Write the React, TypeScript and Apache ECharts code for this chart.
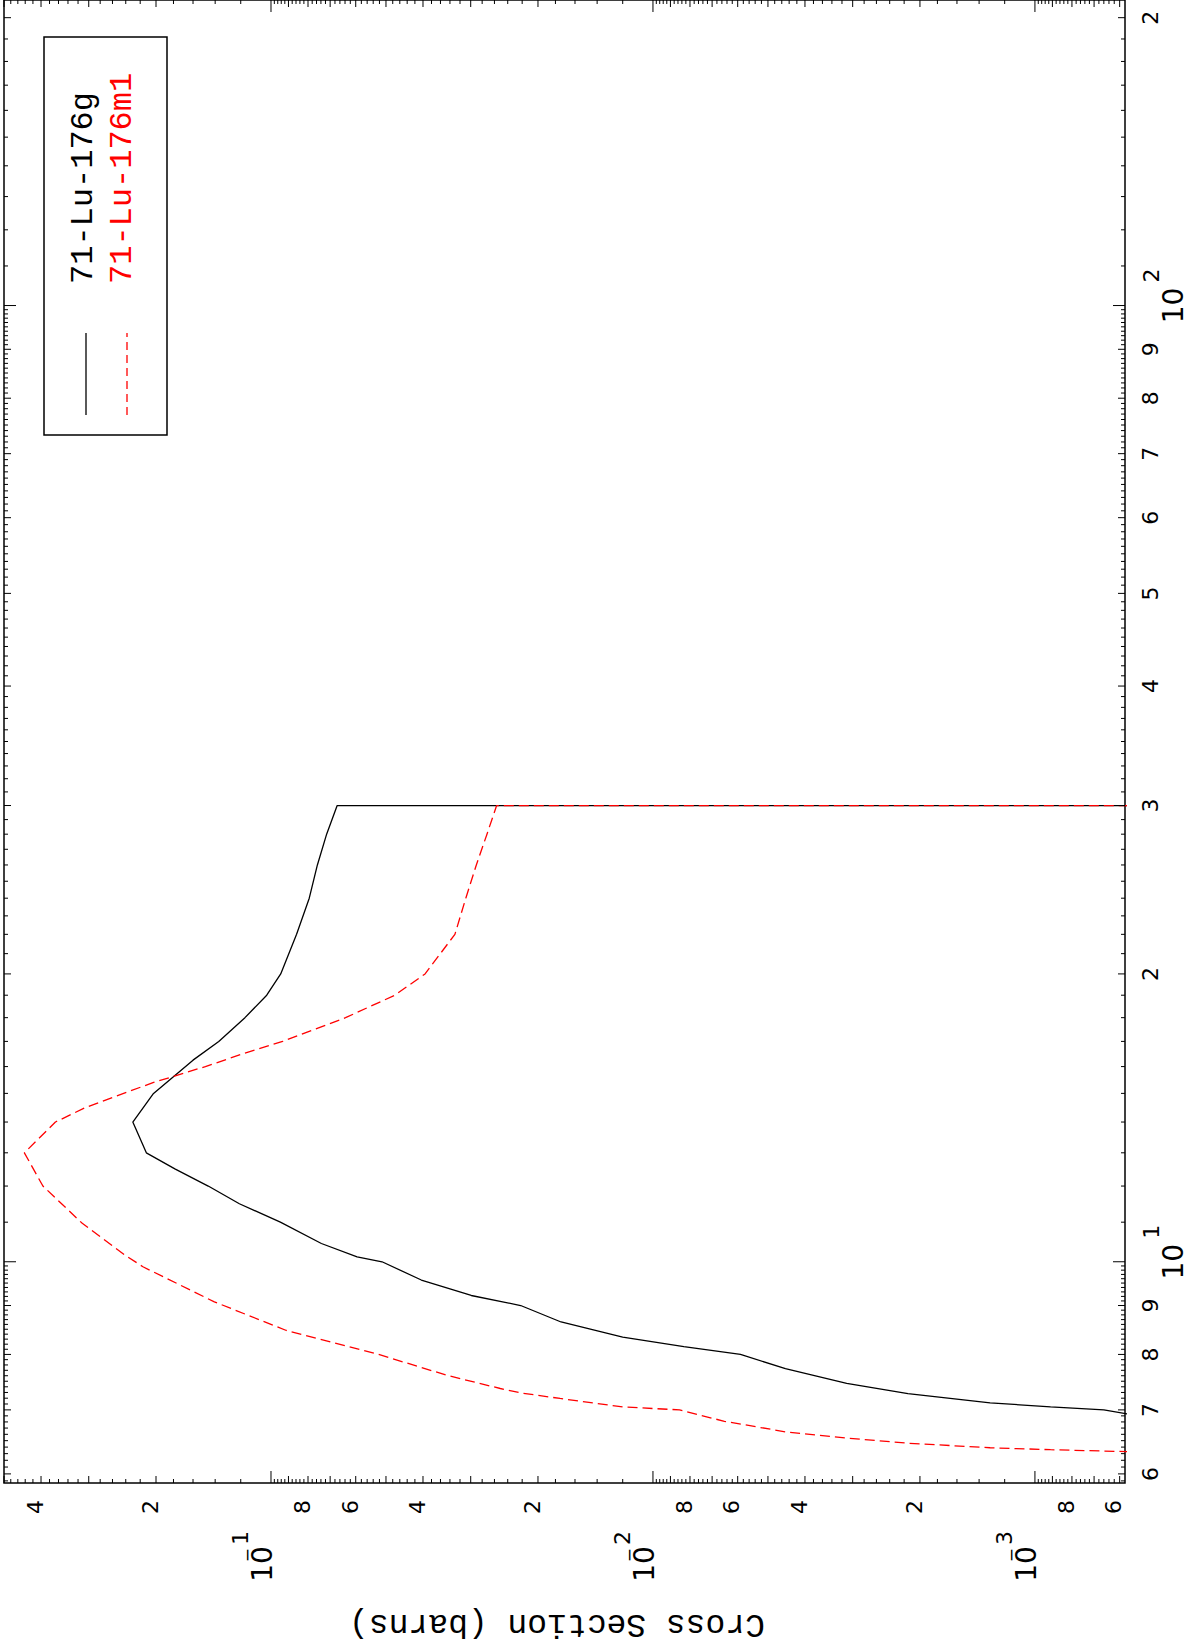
import React, { useEffect, useRef } from "react";
import * as echarts from "echarts";

// 71-Lu-176 : energy (MeV) vs cross section (barns)
const lu176gEnergy = [6.8, 7.0, 7.05, 7.12, 7.28, 7.46, 7.73, 8.0, 8.15, 8.34, 8.65, 9.0, 9.22, 9.57, 10.0, 10.12, 10.45, 11.0, 11.5, 12.0, 12.5, 13.0, 14.0, 15.0, 16.25, 17.0, 18.0, 19.0, 20.0, 22.0, 24.0, 26.0, 28.0, 30.0, 30.0];
const lu176gXs = [4.3e-4, 6.6e-4, 9.1e-4, 1.31e-3, 2.15e-3, 3.11e-3, 4.5e-3, 5.9e-3, 8.3e-3, 1.2e-2, 1.74e-2, 2.22e-2, 2.99e-2, 4.04e-2, 5.12e-2, 5.95e-2, 7.38e-2, 9.45e-2, 0.121, 0.146, 0.178, 0.212, 0.23, 0.203, 0.16, 0.137, 0.117, 0.1026, 0.0943, 0.0857, 0.0794, 0.0756, 0.0715, 0.0671, 1e-6];

const lu176m1Energy = [6.3, 6.36, 6.39, 6.46, 6.54, 6.64, 6.81, 7.0, 7.05, 7.195, 7.29, 7.37, 7.61, 8.0, 8.48, 9.08, 9.88, 10.16, 10.97, 12.0, 13.0, 14.0, 14.5, 14.88, 15.4, 16.0, 16.5, 17.0, 18.0, 19.0, 20.0, 22.0, 24.0, 26.0, 28.0, 30.0, 30.0];
const lu176m1Xs = [3.6e-4, 9.1e-4, 1.31e-3, 2.15e-3, 3.11e-3, 4.5e-3, 6.5e-3, 8.52e-3, 1.2e-2, 1.75e-2, 2.21e-2, 2.51e-2, 3.47e-2, 5.23e-2, 9.15e-2, 0.1407, 0.2164, 0.241, 0.312, 0.3955, 0.4422, 0.3667, 0.3055, 0.2571, 0.2029, 0.1485, 0.1185, 0.0932, 0.0638, 0.0474, 0.0395, 0.033, 0.0309, 0.029, 0.0272, 0.02566, 1e-6];

const seriesNames = ["71-Lu-176g", "71-Lu-176m1"];
const axisTitle = "Cross Section (barns)";

const energyLabelValues = [6, 7, 8, 9, 10, 20, 30, 40, 50, 60, 70, 80, 90, 100, 200];
const energyLabelTexts = ["6", "7", "8", "9", "10^1", "2", "3", "4", "5", "6", "7", "8", "9", "10^2", "2"];
const xsLabelValues = [6e-4, 8e-4, 1e-3, 2e-3, 4e-3, 6e-3, 8e-3, 1e-2, 2e-2, 4e-2, 6e-2, 8e-2, 1e-1, 2e-1, 4e-1];
const xsLabelTexts = ["6", "8", "10^-3", "2", "4", "6", "8", "10^-2", "2", "4", "6", "8", "10^-1", "2", "4"];

const XS_MIN = 5.81e-4;
const XS_MAX = 0.5;
const E_MIN = 5.87;
const E_MAX = 208.7;

const TICK_LEN = [12, 7, 4];
const DIGIT_FONT = "DejaVu Sans";
const MONO_FONT = "Liberation Mono";

function buildTicks(minV: number, maxV: number, stepTenths: number) {
  const out: number[][] = [];
  const d0 = Math.floor(Math.log10(minV));
  const d1 = Math.ceil(Math.log10(maxV));
  for (let d = d0; d <= d1; d++) {
    for (let m = 10; m < 100; m += stepTenths) {
      const v = (m / 10) * Math.pow(10, d);
      if (v < minV * 0.99999 || v > maxV * 1.00001) continue;
      const kind = m === 10 ? 0 : m % 10 === 0 ? 1 : 2;
      out.push([v, kind]);
    }
  }
  return out;
}

const xsTicks = buildTicks(XS_MIN, XS_MAX, 2);
const energyTicks = buildTicks(E_MIN, E_MAX, 1);

function txt(text: string, x: number, y: number, size: number, family: string, fill = "#000", rotation = Math.PI / 2, align = "center") {
  return {
    type: "text",
    x,
    y,
    rotation,
    style: {
      text,
      fill,
      fontSize: size,
      fontFamily: family,
      align,
      verticalAlign: "middle",
      textAlign: align,
      textVerticalAlign: "middle",
    },
  };
}

export default function App() {
  const ref = useRef<HTMLDivElement>(null);

  useEffect(() => {
    if (!ref.current) return;
    const chart = echarts.init(ref.current, undefined, { renderer: "svg" });

    const hiddenAxis = {
      axisLine: { show: false },
      axisTick: { show: false },
      axisLabel: { show: false },
      splitLine: { show: false },
    };

    const option: any = {
      animation: false,
      backgroundColor: "#fff",
      grid: {
        left: 4,
        top: 0,
        width: 1121,
        height: 1483,
        show: true,
        borderColor: "#000",
        borderWidth: 1.5,
        backgroundColor: "transparent",
      },
      xAxis: {
        type: "log",
        logBase: 10,
        min: XS_MIN,
        max: XS_MAX,
        inverse: true,
        ...hiddenAxis,
      },
      yAxis: {
        type: "log",
        logBase: 10,
        min: E_MIN,
        max: E_MAX,
        position: "right",
        ...hiddenAxis,
      },
      series: [
        {
          name: seriesNames[0],
          type: "line",
          data: lu176gEnergy.map((e, i) => [lu176gXs[i], e]),
          showSymbol: false,
          symbol: "none",
          clip: true,
          lineStyle: { color: "#000", width: 1.3 },
          z: 3,
        },
        {
          name: seriesNames[1],
          type: "line",
          data: lu176m1Energy.map((e, i) => [lu176m1Xs[i], e]),
          showSymbol: false,
          symbol: "none",
          clip: true,
          lineStyle: { color: "#ff0000", width: 1.3, type: [10, 5] },
          z: 3,
        },
        {
          type: "custom",
          silent: true,
          z: 5,
          data: xsTicks.map((t) => [t[0], E_MIN, t[1]]),
          renderItem: (params: any, api: any) => {
            const cs = params.coordSys;
            const p = api.coord([api.value(0), E_MIN]);
            const len = TICK_LEN[api.value(2)];
            const x = p[0];
            const yb = cs.y + cs.height;
            return {
              type: "group",
              children: [
                { type: "line", shape: { x1: x, y1: yb, x2: x, y2: yb - len }, style: { stroke: "#000", lineWidth: 1 } },
                { type: "line", shape: { x1: x, y1: cs.y, x2: x, y2: cs.y + len }, style: { stroke: "#000", lineWidth: 1 } },
              ],
            };
          },
        },
        {
          type: "custom",
          silent: true,
          z: 5,
          data: energyTicks.map((t) => [XS_MIN, t[0], t[1]]),
          renderItem: (params: any, api: any) => {
            const cs = params.coordSys;
            const p = api.coord([XS_MIN, api.value(1)]);
            const len = TICK_LEN[api.value(2)];
            const y = p[1];
            const xr = cs.x + cs.width;
            return {
              type: "group",
              children: [
                { type: "line", shape: { x1: xr, y1: y, x2: xr - len, y2: y }, style: { stroke: "#000", lineWidth: 1 } },
                { type: "line", shape: { x1: cs.x, y1: y, x2: cs.x + len, y2: y }, style: { stroke: "#000", lineWidth: 1 } },
              ],
            };
          },
        },
        {
          type: "custom",
          silent: true,
          z: 6,
          data: xsLabelValues.map((v) => [v, E_MIN]),
          renderItem: (params: any, api: any) => {
            const cs = params.coordSys;
            const p = api.coord([api.value(0), E_MIN]);
            const tx = p[0];
            const yb = cs.y + cs.height;
            const label = xsLabelTexts[params.dataIndex];
            if (label.indexOf("^") < 0) {
              return { type: "group", children: [txt(label, tx - 5.7, yb + 24, 22, DIGIT_FONT)] };
            }
            const [base, exp] = label.split("^");
            const neg = exp.startsWith("-");
            const digits = neg ? exp.slice(1) : exp;
            const children: any[] = [
              txt(base, tx - 8.8, yb + 81, 28, DIGIT_FONT),
              txt(digits, tx - 30.7, yb + 55, 22, DIGIT_FONT),
            ];
            if (neg) children.push(txt("\u2212", tx - 24, yb + 72, 17, DIGIT_FONT));
            return { type: "group", children };
          },
        },
        {
          type: "custom",
          silent: true,
          z: 6,
          data: energyLabelValues.map((v) => [XS_MIN, v]),
          renderItem: (params: any, api: any) => {
            const cs = params.coordSys;
            const p = api.coord([XS_MIN, api.value(1)]);
            const ty = p[1];
            const xr = cs.x + cs.width;
            const label = energyLabelTexts[params.dataIndex];
            if (label.indexOf("^") < 0) {
              return { type: "group", children: [txt(label, xr + 25, ty, 22, DIGIT_FONT)] };
            }
            const [base, exp] = label.split("^");
            return {
              type: "group",
              children: [
                txt(base, xr + 48.7, ty, 28, DIGIT_FONT),
                txt(exp, xr + 26, ty - 30, 22, DIGIT_FONT),
              ],
            };
          },
        },
      ],
      graphic: [
        {
          type: "rect",
          z: 20,
          shape: { x: 44, y: 37, width: 123, height: 398 },
          style: { fill: "#fff", stroke: "#000", lineWidth: 1.5 },
        },
        {
          type: "line",
          z: 21,
          shape: { x1: 86, y1: 415, x2: 86, y2: 333 },
          style: { stroke: "#000", lineWidth: 1.3 },
        },
        {
          type: "line",
          z: 21,
          shape: { x1: 127, y1: 415, x2: 127, y2: 333 },
          style: { stroke: "#ff0000", lineWidth: 1.3, lineDash: [8, 5] },
        },
        { ...txt(seriesNames[0], 83, 284, 32, MONO_FONT, "#000", Math.PI / 2, "left"), z: 21 },
        { ...txt(seriesNames[1], 122, 284, 32, MONO_FONT, "#ff0000", Math.PI / 2, "left"), z: 21 },
        { ...txt(axisTitle, 557, 1623, 33, MONO_FONT, "#000", Math.PI, "center"), z: 21 },
      ],
    };

    chart.setOption(option);
    return () => {
      chart.dispose();
    };
  }, []);

  return (
    <div
      ref={ref}
      style={{ position: "absolute", left: 0, top: 0, width: 1191, height: 1651, background: "#fff" }}
    />
  );
}
